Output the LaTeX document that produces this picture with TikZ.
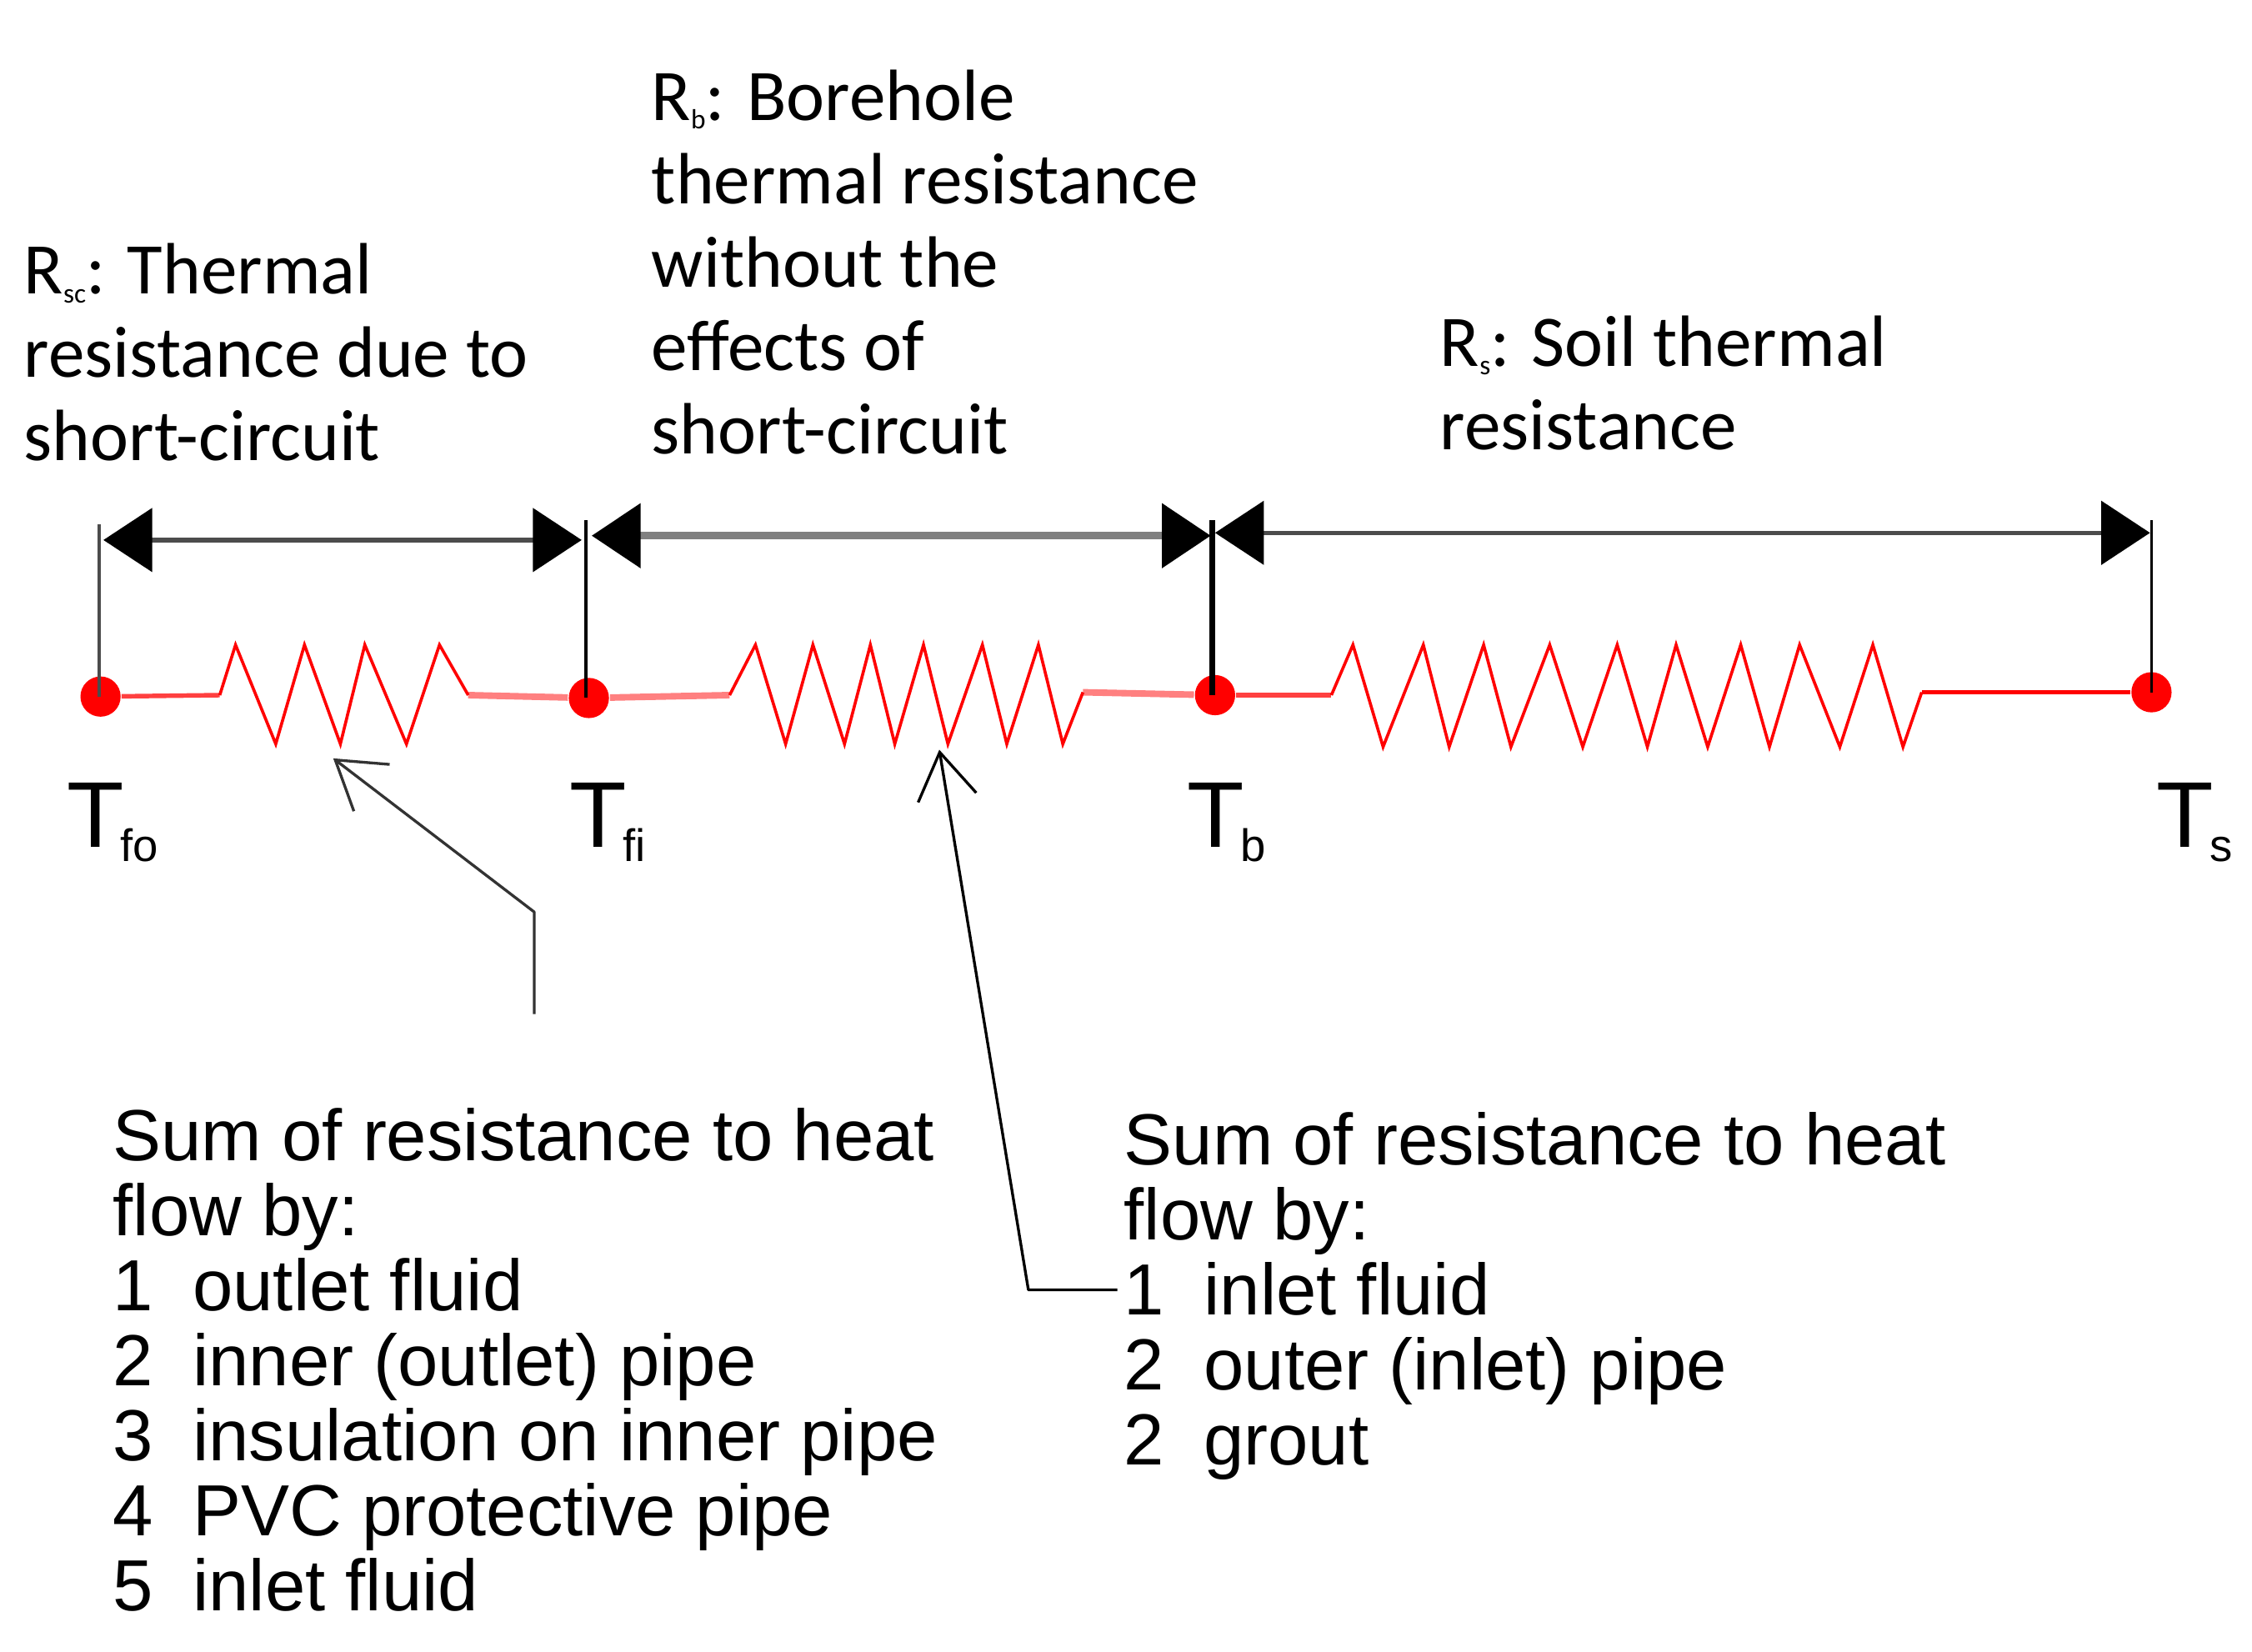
\documentclass[tikz,border=0pt]{standalone}
\usepackage{fontspec}
\setmainfont{Liberation Sans}
\newfontfamily\calibrifont{Carlito}
\usepackage{xcolor}
\usetikzlibrary{arrows.meta,positioning,calc}
\newcommand{\tempsub}[2]{{\fontsize{18.5}{18.5}\selectfont #1}\hspace{-.25mm}\raisebox{-.95mm}{\fontsize{9}{9}\selectfont #2}}
\newcommand{\ressub}[1]{\raisebox{-.6mm}{\fontsize{5.5}{5.5}\selectfont #1}}
\newcommand{\listrow}[2]{\makebox[5.55mm][l]{#1}#2}
\tikzset{
  dotnode/.style={circle,fill=red,inner sep=0pt,minimum size=2.8mm},
  wire/.style={red!75,line width=.9pt},
  palewire/.style={red!50,line width=1.3pt},
  zigzag/.style={red,line width=.6pt,line join=miter},
  span/.style={{Triangle[length=3.4mm,width=4.4mm,color=black]}-{Triangle[length=3.4mm,width=4.4mm,color=black]},line width=.9pt},
  pointer/.style={-{Straight Barb[length=3.2mm,width=4.1mm,line width=.55pt]},line width=.55pt,line join=bevel},
  toplabel/.style={anchor=north west,inner sep=0pt,align=left,font=\calibrifont\fontsize{14.4}{16.5}\selectfont},
  sumlabel/.style={anchor=north west,inner sep=0pt,align=left,font=\fontsize{14.35}{14.85}\selectfont},
  templabel/.style={anchor=base west,inner sep=0pt}
}
\begin{document}
\begin{tikzpicture}[>=stealth]
  \useasboundingbox (0,0) rectangle (15.68,11.5);

  % temperature points
  \node[dotnode] (tfo) at (0.70,6.65) {};
  \node[dotnode] (tfi) at (4.10,6.64) {};
  \node[dotnode] (tb) at (8.46,6.66) {};
  \node[dotnode] (ts) at (14.98,6.68) {};

  % ends of the resistors
  \coordinate (ra) at (1.53,6.66);
  \coordinate (rb) at (3.26,6.66);
  \coordinate (rc) at (5.08,6.66);
  \coordinate (rd) at (7.54,6.68);
  \coordinate (re) at (9.27,6.66);
  \coordinate (rf) at (13.38,6.68);

  \draw[wire] (tfo) -- (ra);
  \draw[palewire] (rb) -- (tfi);
  \draw[palewire] (tfi) -- (rc);
  \draw[palewire] (rd) -- (tb);
  \draw[wire] (tb) -- (re);
  \draw[red,line width=.9pt] (rf) -- (ts);

  \draw[zigzag] (ra) -- (1.64,7.01) -- (1.92,6.32) -- (2.12,7.01) -- (2.37,6.32) -- (2.54,7.01)
    -- (2.83,6.32) -- (3.06,7.01) -- (rb);
  \draw[zigzag] (rc) -- (5.26,7.01) -- (5.47,6.32) -- (5.66,7.01) -- (5.88,6.32) -- (6.06,7.01)
    -- (6.23,6.32) -- (6.43,7.01) -- (6.60,6.32) -- (6.84,7.01) -- (7.01,6.32) -- (7.23,7.01)
    -- (7.40,6.32) -- (rd);
  \draw[zigzag] (re) -- (9.42,7.01) -- (9.63,6.30) -- (9.91,7.01) -- (10.09,6.30) -- (10.33,7.01)
    -- (10.52,6.30) -- (10.79,7.01) -- (11.02,6.30) -- (11.26,7.01) -- (11.47,6.30) -- (11.67,7.01)
    -- (11.89,6.30) -- (12.12,7.01) -- (12.32,6.30) -- (12.53,7.01) -- (12.81,6.30) -- (13.04,7.01)
    -- (13.25,6.30) -- (rf);

  % vertical ticks and spans
  \coordinate (tfotop) at (0.69,7.85);
  \coordinate (tfitop) at (4.08,7.88);
  \coordinate (tbtop) at (8.44,7.88);
  \coordinate (tstop) at (14.98,7.88);
  \draw[black!70,line width=.6pt] (tfotop) -- (tfotop |- tfo.center);
  \draw[line width=.6pt] (tfitop) -- (tfitop |- tfi.center);
  \draw[line width=1.1pt] (tbtop) -- (tbtop |- tb.center);
  \draw[line width=.5pt] (tstop) -- (ts.center);

  \coordinate (sa) at (0.72,7.74);
  \coordinate (sb) at (4.05,7.74);
  \coordinate (sc) at (4.12,7.77);
  \coordinate (sd) at (8.43,7.77);
  \coordinate (se) at (8.46,7.79);
  \coordinate (sf) at (14.97,7.79);
  \draw[span,black!70] (sa) -- (sb);
  \draw[span,black!50,line width=1.5pt] (sc) -- (sd);
  \draw[span,black!70] (se) -- (sf);

  % resistance labels
  \node[toplabel] (rsclabel) at (0.16,9.81) {R\ressub{sc}: Thermal\\resistance due to\\short-circuit};
  \node[toplabel] (rblabel) at (4.53,11.02) {R\ressub{b}: Borehole\\thermal resistance\\without the\\effects of\\short-circuit};
  \node[toplabel] (rslabel) at (10.02,9.31) {R\ressub{s}: Soil thermal\\resistance};

  % temperature labels
  \node[templabel] (tfolabel) at (0.46,5.60) {\tempsub{T}{fo}};
  \node[templabel] (tfilabel) at (3.96,5.60) {\tempsub{T}{fi}};
  \node[templabel] (tblabel) at (8.26,5.60) {\tempsub{T}{b}};
  \node[templabel] (tslabel) at (15.01,5.60) {\tempsub{T}{s}};

  % lists
  \node[sumlabel] (sumleft) at (0.78,3.79) {Sum of resistance to heat\\flow by:\\\listrow{1}{outlet fluid}\\\listrow{2}{inner (outlet) pipe}\\\listrow{3}{insulation on inner pipe}\\\listrow{4}{PVC protective pipe}\\\listrow{5}{inlet fluid}};
  \node[sumlabel] (sumright) at (7.82,3.76) {Sum of resistance to heat\\flow by:\\\listrow{1}{inlet fluid}\\\listrow{2}{outer (inlet) pipe}\\\listrow{2}{grout}};

  % pointers
  \coordinate (pa) at (3.72,4.44);
  \coordinate (pb) at (3.72,5.15);
  \coordinate (pc) at (2.32,6.22);
  \coordinate (qa) at (7.78,2.52);
  \coordinate (qb) at (7.16,2.52);
  \coordinate (qc) at (6.54,6.28);
  \draw[pointer,black!80] (pa) -- (pb) -- (pc);
  \draw[pointer] (qa) -- (qb) -- (qc);
\end{tikzpicture}
\end{document}
